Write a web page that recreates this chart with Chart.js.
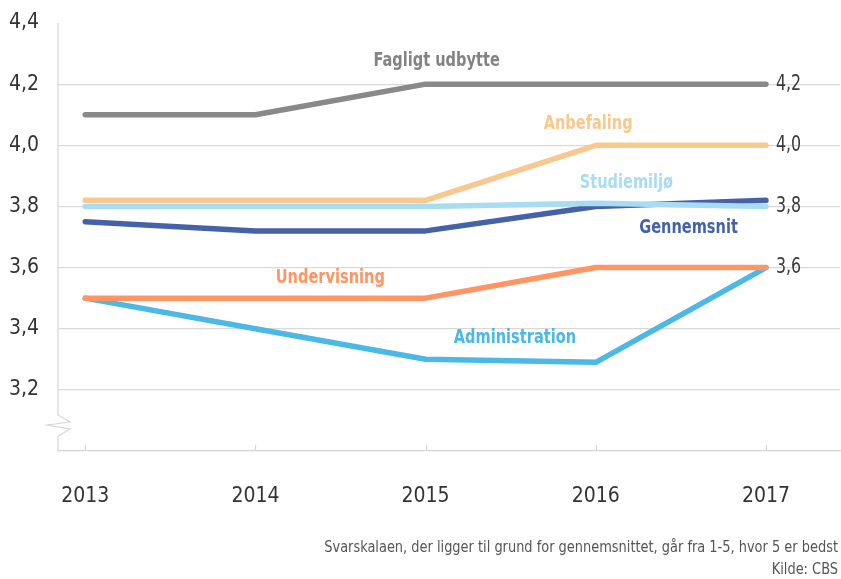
<!DOCTYPE html>
<html>
<head>
<meta charset="utf-8">
<script src="https://cdn.jsdelivr.net/npm/chart.js@4/dist/chart.umd.min.js"></script>
<style>
  body { margin: 0; background: #fff; }
  canvas { display: block; }
</style>
</head>
<body>
<canvas id="chart" width="841" height="579"></canvas>
<script>
const years = [2013, 2014, 2015, 2016, 2017];

const fagligtUdbytte = [4.1, 4.1, 4.2, 4.2, 4.2];
const anbefaling = [3.82, 3.82, 3.82, 4.0, 4.0];
const studiemiljo = [3.8, 3.8, 3.8, 3.81, 3.8];
const gennemsnit = [3.75, 3.72, 3.72, 3.8, 3.82];
const undervisning = [3.5, 3.5, 3.5, 3.6, 3.6];
const administration = [3.5, 3.4, 3.3, 3.29, 3.6];

const seriesNames = ["Fagligt udbytte", "Anbefaling", "Studiemiljø", "Gennemsnit", "Undervisning", "Administration"];

const endLabels = ["4,2", "4,0", "3,8", "3,6"];
const endValues = [4.2, 4.0, 3.8, 3.6];

const footnote = "Svarskalaen, der ligger til grund for gennemsnittet, går fra 1-5, hvor 5 er bedst";
const source = "Kilde: CBS";

// styling and label placement (in data units)
const colors = ["#898989", "#f8c88d", "#a8dcf2", "#4562a8", "#ff9562", "#4bb8e6"];
const labelColors = ["#838383", "#f8c88d", "#a8dcf2", "#4562a8", "#ff9562", "#4bb8e6"];
const labelPos = [
  [2015.065, 4.278],
  [2015.955, 4.069],
  [2016.18, 3.876],
  [2016.545, 3.729],
  [2014.44, 3.565],
  [2015.525, 3.369]
];

const NARROW = "'DejaVu Sans Condensed', 'Liberation Sans Narrow', sans-serif";

const allSeries = [fagligtUdbytte, anbefaling, studiemiljo, gennemsnit, undervisning, administration];

const datasets = allSeries.map((values, i) => ({
  label: seriesNames[i],
  data: values.map((v, j) => ({ x: years[j], y: v })),
  borderColor: colors[i],
  borderWidth: 5.5,
  borderCapStyle: "round",
  borderJoinStyle: "round",
  pointRadius: 0,
  tension: 0,
  fill: false
}));

// squeezed text, to get closer to the condensed font of the original
function narrowText(ctx, text, x, y, squeeze) {
  ctx.save();
  ctx.translate(x, y);
  ctx.scale(squeeze, 1);
  ctx.fillText(text, 0, 0);
  ctx.restore();
}

const decorations = {
  id: "decorations",
  afterDraw(chart) {
    const ctx = chart.ctx;
    const area = chart.chartArea;
    const xs = chart.scales.x;
    const ys = chart.scales.y;

    ctx.save();

    // y axis line with break
    ctx.strokeStyle = "#d6d6d6";
    ctx.lineWidth = 1.2;
    ctx.beginPath();
    ctx.moveTo(area.left, area.top);
    ctx.lineTo(area.left, area.bottom - 36);
    ctx.lineTo(area.left + 12, area.bottom - 29);
    ctx.lineTo(area.left - 11, area.bottom - 26);
    ctx.lineTo(area.left + 12, area.bottom - 22);
    ctx.lineTo(area.left, area.bottom - 15);
    ctx.lineTo(area.left, area.bottom);
    ctx.stroke();

    // small ticks on x axis
    years.forEach(y => {
      const px = Math.round(xs.getPixelForValue(y)) + 0.5;
      ctx.beginPath();
      ctx.moveTo(px, area.bottom);
      ctx.lineTo(px, area.bottom - 6);
      ctx.stroke();
    });

    // value labels at the right end
    ctx.fillStyle = "#3a3a3a";
    ctx.font = "22px " + NARROW;
    ctx.textAlign = "left";
    ctx.textBaseline = "middle";
    endLabels.forEach((t, i) => {
      narrowText(ctx, t, xs.getPixelForValue(2017) + 10, ys.getPixelForValue(endValues[i]), 0.8);
    });

    // series names
    ctx.font = "bold 20px " + NARROW;
    ctx.textAlign = "center";
    seriesNames.forEach((name, i) => {
      ctx.fillStyle = labelColors[i];
      narrowText(ctx, name, xs.getPixelForValue(labelPos[i][0]), ys.getPixelForValue(labelPos[i][1]), 0.81);
    });

    // footnote
    ctx.fillStyle = "#555";
    ctx.font = "16px " + NARROW;
    ctx.textAlign = "right";
    narrowText(ctx, footnote, 838, 548, 0.9);
    narrowText(ctx, source, 838, 570, 0.9);

    ctx.restore();
  }
};

new Chart(
  document.getElementById("chart"),
  {
    type: "line",
    data: { datasets: datasets },
    options: {
      responsive: false,
      animation: false,
      layout: { padding: { top: 23, right: 1, bottom: 68, left: 0 } },
      plugins: {
        legend: { display: false },
        tooltip: { enabled: false }
      },
      scales: {
        x: {
          type: "linear",
          min: 2012.84,
          max: 2017.435,
          afterBuildTicks: scale => {
            scale.ticks = years.map(v => ({ value: v }));
          },
          afterFit: scale => {
            scale.height = 60;
            scale.paddingLeft = 0;
            scale.paddingRight = 0;
          },
          grid: { display: false },
          border: { display: true, color: "#d6d6d6", width: 1.2 },
          ticks: {
            color: "#333",
            padding: 25,
            font: { family: NARROW, size: 21 },
            callback: v => String(v)
          }
        },
        y: {
          min: 3.0,
          max: 4.4,
          afterFit: scale => {
            scale.width = 58;
            scale.paddingTop = 0;
            scale.paddingBottom = 0;
          },
          border: { display: false },
          grid: {
            drawTicks: false,
            color: c => {
              const v = c.tick.value;
              return (Math.abs(v - 3) < 0.01 || Math.abs(v - 4.4) < 0.01) ? "rgba(0,0,0,0)" : "#d9d9d9";
            },
            lineWidth: 1.2
          },
          ticks: {
            stepSize: 0.2,
            color: "#333",
            padding: 19,
            font: { family: NARROW, size: 21 },
            callback: v => Math.abs(v - 3) < 0.01 ? "" : v.toFixed(1).replace(".", ",")
          }
        }
      }
    },
    plugins: [decorations]
  }
);
</script>
</body>
</html>
